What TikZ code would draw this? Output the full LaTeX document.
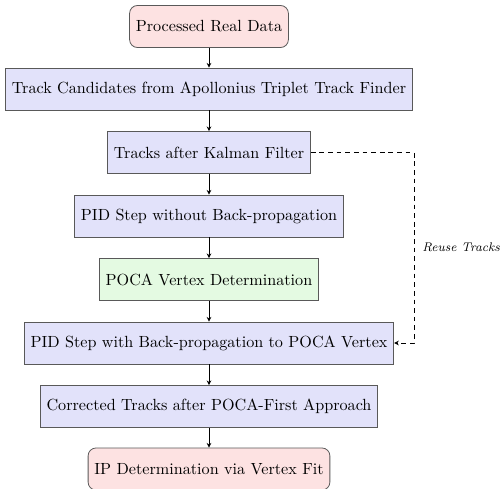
\documentclass[tikz,border=0pt]{standalone}
\usetikzlibrary{arrows.meta}
\definecolor{pinkfill}{RGB}{253,226,226}
\definecolor{bluefill}{RGB}{226,226,250}
\definecolor{greenfill}{RGB}{228,250,226}
\begin{document}
\begin{tikzpicture}[x=0.6375pt,y=-0.6375pt,
  box/.style={draw=black!65, line width=0.5pt, minimum height=42*0.6375pt, inner xsep=4pt, anchor=center, font=\fontsize{10.3}{12.4}\selectfont},
  blueb/.style={box, fill=bluefill},
  pinkb/.style={box, fill=pinkfill, rounded corners=5pt},
  greenb/.style={box, fill=greenfill},
  conn/.style={-{Stealth[length=3pt,width=3pt]}, line width=0.6pt},
  dconn/.style={-{Stealth[length=3pt,width=3pt]}, line width=0.6pt, dashed, dash pattern=on 3pt off 2.5pt}]
\useasboundingbox (0,0) rectangle (502,489);
\node[pinkb] (n1) at (209,26.5) {Processed Real Data};
\node[blueb] (n2) at (209,89) {Track Candidates from Apollonius Triplet Track Finder};
\node[blueb] (n3) at (209,152.5) {Tracks after Kalman Filter};
\node[blueb] (n4) at (209,216) {PID Step without Back-propagation};
\node[greenb] (n5) at (209,279.5) {POCA Vertex Determination};
\node[blueb] (n6) at (209,343) {PID Step with Back-propagation to POCA Vertex};
\node[blueb] (n7) at (209,406.5) {Corrected Tracks after POCA-First Approach};
\node[pinkb] (n8) at (209,469) {IP Determination via Vertex Fit};
\draw[conn] (n1) -- (n2);
\draw[conn] (n2) -- (n3);
\draw[conn] (n3) -- (n4);
\draw[conn] (n4) -- (n5);
\draw[conn] (n5) -- (n6);
\draw[conn] (n6) -- (n7);
\draw[conn] (n7) -- (n8);
\coordinate (c1) at (414,152.5);
\coordinate (c2) at (414,343);
\draw[dconn] (n3.east) -- (c1) -- (c2) -- (n6.east);
\node[anchor=west, font=\footnotesize\itshape, inner sep=0pt] (lbl) at (422,247) {Reuse Tracks};
\end{tikzpicture}
\end{document}
